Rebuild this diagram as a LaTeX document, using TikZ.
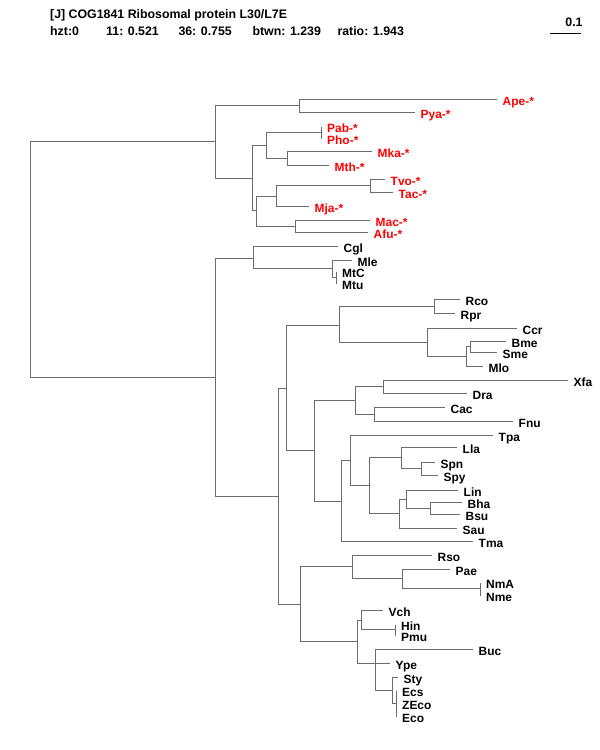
\documentclass[tikz,border=0pt]{standalone}
\usepackage{fontspec}
\setmainfont{Liberation Sans}
\definecolor{brgray}{RGB}{108,108,108}
\definecolor{arcred}{RGB}{255,0,0}
\newcommand{\leafB}[3]{\coordinate (t#1) at (#2,#3); \node[lab] (n#1) at (t#1) {#1};}
\newcommand{\leafA}[3]{\coordinate (t#1) at (#2,#3); \node[lab,text=arcred] (n#1) at (t#1) {#1-*};}
\tikzset{
  br/.style={draw=brgray, line width=1.5bp},
  lab/.style={font=\fontsize{12}{14}\selectfont\bfseries, anchor=base west, inner sep=0pt, xshift=5.5bp, yshift=-6bp},
  ttl/.style={font=\fontsize{12.4}{14}\selectfont\bfseries, anchor=base west, inner sep=0pt}
}
\begin{document}
\begin{tikzpicture}[x=1bp,y=-1bp]
\useasboundingbox (0,0) rectangle (600,750);
% header
\node[ttl] (title) at (50,18.3) {[J] COG1841 Ribosomal protein L30/L7E};
\node[ttl] (h1) at (50,36) {hzt:0};
\node[ttl] (h2) at (106,36) {11: 0.521};
\node[ttl] (h3) at (178.3,36) {36: 0.755};
\node[ttl] (h4) at (252.3,36) {btwn: 1.239};
\node[ttl] (h5) at (337.3,36) {ratio: 1.943};
\coordinate (s1) at (550,33.5);
\coordinate (s2) at (581,33.5);
\draw[line width=1bp] (s1) -- (s2);
\node[ttl, anchor=base] (sc) at (574,27) {0.1};
% internal nodes
\coordinate (root) at (30.5,259.5);
\coordinate (A) at (215.5,141.5);
\coordinate (A1) at (299.5,105.5);
\coordinate (A2) at (252.5,178.5);
\coordinate (A3) at (266.5,145.5);
\coordinate (A5) at (321.5,132.5);
\coordinate (A6) at (287.5,158.5);
\coordinate (A4) at (256.5,210.5);
\coordinate (A7) at (276.5,196.5);
\coordinate (A9) at (370.5,185.5);
\coordinate (A8) at (295.5,226.5);
\coordinate (B) at (215.5,377.5);
\coordinate (B1) at (253.5,258.5);
\coordinate (B3) at (332.5,268.5);
\coordinate (B4) at (336.5,277.5);
\coordinate (B2) at (278.5,496.5);
\coordinate (B5) at (286.5,388.5);
\coordinate (B7) at (339.5,325.5);
\coordinate (B9) at (434.5,306.5);
\coordinate (B10) at (427.5,342.5);
\coordinate (B11) at (466.5,356.5);
\coordinate (B12) at (470.5,346.5);
\coordinate (B8) at (314.5,450.5);
\coordinate (B13) at (355.5,400.5);
\coordinate (B15) at (383.5,386.5);
\coordinate (B16) at (374.5,414.5);
\coordinate (B14) at (341.5,501.5);
\coordinate (B17) at (350.5,460.5);
\coordinate (B18) at (369.5,485.5);
\coordinate (B19) at (401.5,457.5);
\coordinate (B21) at (421.5,468.5);
\coordinate (B20) at (399.5,513.5);
\coordinate (B22) at (406.5,499.5);
\coordinate (B23) at (430.5,508.5);
\coordinate (B6) at (300.5,604.5);
\coordinate (B24) at (352.5,566.5);
\coordinate (B26) at (402.5,578.5);
\coordinate (B27) at (480.5,588.5);
\coordinate (B25) at (357.5,641.5);
\coordinate (B28) at (361.5,620.5);
\coordinate (B30) at (395.5,629.5);
\coordinate (B29) at (375.5,663.5);
\coordinate (B31) at (392.5,690.5);
\coordinate (B32) at (396.5,703.5);
% leaves
\leafA{Ape}{497}{99.5}
\leafA{Pya}{415}{112.5}
\leafA{Pab}{321.5}{126.5}
\leafA{Pho}{321.5}{138.5}
\leafA{Mka}{372}{151.5}
\leafA{Mth}{329}{165.5}
\leafA{Tvo}{385}{179.5}
\leafA{Tac}{393}{192.5}
\leafA{Mja}{309}{206.5}
\leafA{Mac}{370}{220.5}
\leafA{Afu}{368}{232.5}
\leafB{Cgl}{338}{246.5}
\leafB{Mle}{352}{260.5}
\leafB{MtC}{336.5}{271.5}
\leafB{Mtu}{336.5}{283.5}
\leafB{Rco}{460}{299.5}
\leafB{Rpr}{455}{313.5}
\leafB{Ccr}{517}{328.5}
\leafB{Bme}{506}{341.5}
\leafB{Sme}{497}{352.5}
\leafB{Mlo}{483}{366.5}
\leafB{Xfa}{568}{380.5}
\leafB{Dra}{467}{393.5}
\leafB{Cac}{445}{407.5}
\leafB{Fnu}{513}{421.5}
\leafB{Tpa}{493}{435.5}
\leafB{Lla}{457}{447.5}
\leafB{Spn}{435}{462.5}
\leafB{Spy}{438}{475.5}
\leafB{Lin}{458}{490.5}
\leafB{Bha}{462}{502.5}
\leafB{Bsu}{460}{514.5}
\leafB{Sau}{457}{528.5}
\leafB{Tma}{473}{541.5}
\leafB{Rso}{432}{555.5}
\leafB{Pae}{450}{569.5}
\leafB{NmA}{480.5}{582.5}
\leafB{Nme}{480.5}{595.5}
\leafB{Vch}{383}{610.5}
\leafB{Hin}{395.5}{624.5}
\leafB{Pmu}{395.5}{635.5}
\leafB{Buc}{473}{649.5}
\leafB{Ype}{390}{663.5}
\leafB{Sty}{398}{677.5}
\leafB{Ecs}{396.5}{690.5}
\leafB{ZEco}{396.5}{703.5}
\leafB{Eco}{396.5}{716.5}
% branches
\draw[br] (root) |- (A) (root) |- (B);
\draw[br] (A) |- (A1) (A) |- (A2);
\draw[br] (A1) |- (tApe) (A1) |- (tPya);
\draw[br] (A2) |- (A3) (A2) |- (A4);
\draw[br] (A3) |- (A5) (A3) |- (A6);
\draw[br] (A5) |- (tPab) (A5) |- (tPho);
\draw[br] (A6) |- (tMka) (A6) |- (tMth);
\draw[br] (A4) |- (A7) (A4) |- (A8);
\draw[br] (A7) |- (A9) (A7) |- (tMja);
\draw[br] (A9) |- (tTvo) (A9) |- (tTac);
\draw[br] (A8) |- (tMac) (A8) |- (tAfu);
\draw[br] (B) |- (B1) (B) |- (B2);
\draw[br] (B1) |- (tCgl) (B1) |- (B3);
\draw[br] (B3) |- (tMle) (B3) |- (B4);
\draw[br] (B4) |- (tMtC) (B4) |- (tMtu);
\draw[br] (B2) |- (B5) (B2) |- (B6);
\draw[br] (B5) |- (B7) (B5) |- (B8);
\draw[br] (B7) |- (B9) (B7) |- (B10);
\draw[br] (B9) |- (tRco) (B9) |- (tRpr);
\draw[br] (B10) |- (tCcr) (B10) |- (B11);
\draw[br] (B11) |- (B12) (B11) |- (tMlo);
\draw[br] (B12) |- (tBme) (B12) |- (tSme);
\draw[br] (B8) |- (B13) (B8) |- (B14);
\draw[br] (B13) |- (B15) (B13) |- (B16);
\draw[br] (B15) |- (tXfa) (B15) |- (tDra);
\draw[br] (B16) |- (tCac) (B16) |- (tFnu);
\draw[br] (B14) |- (B17) (B14) |- (tTma);
\draw[br] (B17) |- (tTpa) (B17) |- (B18);
\draw[br] (B18) |- (B19) (B18) |- (B20);
\draw[br] (B19) |- (tLla) (B19) |- (B21);
\draw[br] (B21) |- (tSpn) (B21) |- (tSpy);
\draw[br] (B20) |- (B22) (B20) |- (tSau);
\draw[br] (B22) |- (tLin) (B22) |- (B23);
\draw[br] (B23) |- (tBha) (B23) |- (tBsu);
\draw[br] (B6) |- (B24) (B6) |- (B25);
\draw[br] (B24) |- (tRso) (B24) |- (B26);
\draw[br] (B26) |- (tPae) (B26) |- (B27);
\draw[br] (B27) |- (tNmA) (B27) |- (tNme);
\draw[br] (B25) |- (B28) (B25) |- (B29);
\draw[br] (B28) |- (tVch) (B28) |- (B30);
\draw[br] (B30) |- (tHin) (B30) |- (tPmu);
\draw[br] (B29) |- (tBuc) (B29) |- (tYpe) (B29) |- (B31);
\draw[br] (B31) |- (tSty) (B31) |- (B32);
\draw[br] (B32) |- (tEcs) (B32) |- (tZEco) (B32) |- (tEco);
\end{tikzpicture}
\end{document}
